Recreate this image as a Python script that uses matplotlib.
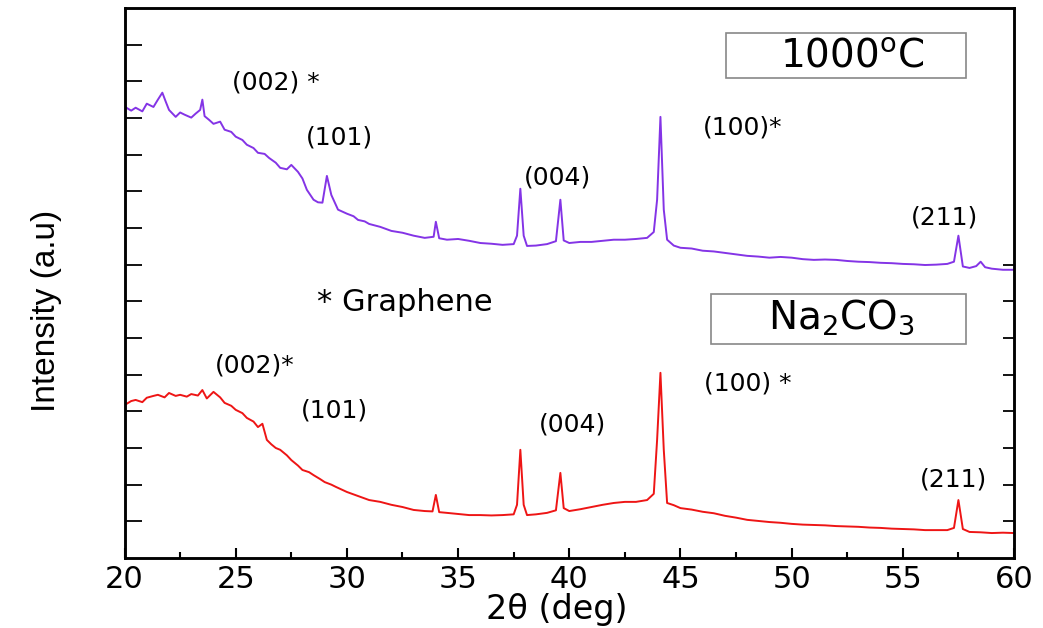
import matplotlib
matplotlib.use("Agg")
import matplotlib.pyplot as plt
from matplotlib.patches import Rectangle
from matplotlib.ticker import MultipleLocator

# 1000 C sample (upper trace)
x_1000 = [20.0, 20.3, 20.5, 20.8, 21.0, 21.3, 21.5, 21.7, 21.85, 22.0, 22.3, 22.5, 22.7, 23.0, 23.2,
          23.4, 23.5, 23.6, 23.8, 24.0, 24.3, 24.5, 24.8, 25.0, 25.3, 25.5, 25.8, 26.0, 26.3, 26.5,
          26.8, 27.0, 27.3, 27.5, 27.8, 28.0, 28.2, 28.5, 28.7, 28.9, 29.1, 29.3, 29.6, 30.0, 30.3,
          30.5, 30.8, 31.0, 31.5, 32.0, 32.5, 33.0, 33.5, 33.9, 34.0, 34.15, 34.5, 35.0, 35.5, 36.0,
          36.5, 37.0, 37.5, 37.65, 37.8, 37.95, 38.1, 38.5, 39.0, 39.4, 39.6, 39.75, 40.0, 40.5, 41.0,
          41.5, 42.0, 42.5, 43.0, 43.5, 43.8, 43.95, 44.1, 44.25, 44.4, 44.7, 45.0, 45.5, 46.0, 46.5,
          47.0, 47.5, 48.0, 48.5, 49.0, 49.5, 50.0, 50.5, 51.0, 51.5, 52.0, 52.5, 53.0, 53.5, 54.0,
          54.5, 55.0, 55.5, 56.0, 56.5, 57.0, 57.3, 57.5, 57.7, 58.0, 58.3, 58.5, 58.7, 59.0, 59.5, 60.0]
y_1000 = [12.31, 12.20, 12.28, 12.18, 12.39, 12.30, 12.50, 12.69, 12.45, 12.22, 12.03, 12.15, 12.09, 12.01, 12.12,
          12.22, 12.50, 12.05, 11.95, 11.84, 11.90, 11.68, 11.62, 11.49, 11.40, 11.27, 11.18, 11.05, 11.02, 10.91,
          10.78, 10.64, 10.60, 10.72, 10.53, 10.35, 10.04, 9.77, 9.70, 9.69, 10.42, 9.90, 9.50, 9.39, 9.32,
          9.22, 9.18, 9.11, 9.03, 8.92, 8.87, 8.79, 8.73, 8.76, 9.17, 8.72, 8.68, 8.70, 8.65, 8.59,
          8.57, 8.54, 8.56, 8.79, 10.07, 8.79, 8.51, 8.52, 8.56, 8.64, 9.77, 8.66, 8.59, 8.62, 8.62,
          8.65, 8.68, 8.68, 8.70, 8.73, 8.89, 9.77, 12.03, 9.50, 8.68, 8.52, 8.46, 8.44, 8.38, 8.36,
          8.32, 8.28, 8.24, 8.22, 8.19, 8.21, 8.19, 8.15, 8.13, 8.14, 8.13, 8.10, 8.08, 8.07, 8.05,
          8.04, 8.02, 8.01, 7.99, 8.00, 8.02, 8.08, 8.79, 7.95, 7.91, 7.96, 8.08, 7.93, 7.89, 7.86, 7.86]

# Na2CO3 sample (lower trace)
x_na = [20.0, 20.3, 20.5, 20.8, 21.0, 21.3, 21.5, 21.8, 22.0, 22.3, 22.5, 22.8, 23.0, 23.3, 23.5,
        23.7, 24.0, 24.3, 24.5, 24.8, 25.0, 25.3, 25.5, 25.8, 26.0, 26.2, 26.4, 26.6, 26.8, 27.0,
        27.3, 27.5, 27.8, 28.0, 28.3, 28.5, 28.8, 29.0, 29.3, 29.5, 30.0, 30.5, 31.0, 31.5, 32.0,
        32.5, 33.0, 33.5, 33.85, 34.0, 34.15, 34.5, 35.0, 35.5, 36.0, 36.5, 37.0, 37.5, 37.65, 37.8,
        37.95, 38.1, 38.5, 39.0, 39.4, 39.6, 39.75, 40.0, 40.5, 41.0, 41.5, 42.0, 42.5, 43.0, 43.5,
        43.8, 43.95, 44.1, 44.25, 44.4, 44.7, 45.0, 45.5, 46.0, 46.5, 47.0, 47.5, 48.0, 48.5, 49.0,
        49.5, 50.0, 50.5, 51.0, 51.5, 52.0, 52.5, 53.0, 53.5, 54.0, 54.5, 55.0, 55.5, 56.0, 56.5,
        57.0, 57.3, 57.5, 57.7, 58.0, 58.5, 59.0, 59.5, 60.0]
y_na = [4.17, 4.28, 4.31, 4.25, 4.37, 4.42, 4.45, 4.38, 4.50, 4.42, 4.45, 4.40, 4.47, 4.43, 4.58,
        4.35, 4.53, 4.38, 4.23, 4.15, 4.04, 3.95, 3.82, 3.72, 3.57, 3.66, 3.22, 3.10, 3.00, 2.95,
        2.80, 2.67, 2.52, 2.40, 2.34, 2.26, 2.15, 2.07, 2.00, 1.94, 1.80, 1.69, 1.58, 1.53, 1.45,
        1.39, 1.31, 1.28, 1.27, 1.72, 1.25, 1.23, 1.20, 1.17, 1.17, 1.16, 1.17, 1.19, 1.45, 2.95,
        1.45, 1.17, 1.19, 1.23, 1.30, 2.32, 1.36, 1.28, 1.33, 1.39, 1.45, 1.50, 1.53, 1.53, 1.58,
        1.75, 3.22, 5.05, 2.95, 1.50, 1.44, 1.36, 1.32, 1.26, 1.22, 1.15, 1.10, 1.04, 1.01, 0.98,
        0.96, 0.93, 0.91, 0.90, 0.89, 0.87, 0.86, 0.85, 0.83, 0.82, 0.80, 0.79, 0.78, 0.76, 0.76,
        0.76, 0.82, 1.58, 0.79, 0.71, 0.70, 0.68, 0.69, 0.68]

x_ticks = [20, 25, 30, 35, 40, 45, 50, 55, 60]

labels_top = ["(002) *", "(101)", "(004)", "(100)*", "(211)"]
labels_bottom = ["(002)*", "(101)", "(004)", "(100) *", "(211)"]

purple = "#8434e6"
red = "#ee1515"

plt.rcParams["font.family"] = ["DejaVu Sans"]
plt.rcParams["mathtext.fontset"] = "dejavusans"

fig = plt.figure(figsize=(10.43, 6.28), dpi=100)
ax = fig.add_axes([0.1194, 0.1115, 0.8528, 0.8758])

ax.plot(x_1000, y_1000, color=purple, lw=1.4)
ax.plot(x_na, y_na, color=red, lw=1.4)

ax.set_xlim(20, 60)
ax.set_ylim(0, 15)
ax.set_xticks(x_ticks)
ax.xaxis.set_minor_locator(MultipleLocator(2.5))
ax.set_yticks(range(1, 15))
ax.tick_params(axis="x", which="major", direction="in", length=7, width=1.5,
               labelsize=22, pad=5)
ax.tick_params(axis="x", which="minor", direction="in", length=4, width=1.5)
ax.tick_params(axis="y", which="major", direction="in", length=12, width=1.3,
               labelleft=False)
for s in ax.spines.values():
    s.set_linewidth(1.8)

# right side only carries ticks on the lower half
ax2 = ax.twinx()
ax2.set_ylim(0, 15)
ax2.set_yticks(range(1, 9))
ax2.tick_params(axis="y", direction="in", length=8, width=1.3, labelright=False)
for s in ax2.spines.values():
    s.set_linewidth(1.8)

ax.set_xlabel("2θ (deg)", fontsize=24, va="center")
ax.xaxis.set_label_coords(0.486, -0.094)
ax.set_ylabel("Intensity (a.u)", fontsize=24, family="Liberation Sans")
ax.yaxis.set_label_coords(-0.07, 0.45)

# peak labels
pos_top = [(26.81, 12.96), (29.66, 11.46), (39.46, 10.37), (47.78, 11.73), (56.88, 9.28)]
pos_bottom = [(25.87, 5.24), (29.46, 4.01), (40.13, 3.63), (48.04, 4.75), (57.26, 2.13)]
for lab, (px, py) in zip(labels_top, pos_top):
    ax.text(px, py, lab, fontsize=18, ha="center", va="center")
for lab, (px, py) in zip(labels_bottom, pos_bottom):
    ax.text(px, py, lab, fontsize=18, ha="center", va="center")

ax.text(32.61, 6.96, "* Graphene", fontsize=22, ha="center", va="center")

# sample boxes
ax.add_patch(Rectangle((0.676, 0.873), 0.270, 0.082, transform=ax.transAxes,
                       fill=False, edgecolor="#888888", lw=1.2))
ax.text(0.818, 0.912, r"1000$^\mathregular{o}$C", transform=ax.transAxes,
        fontsize=28, ha="center", va="center")
ax.add_patch(Rectangle((0.659, 0.389), 0.287, 0.091, transform=ax.transAxes,
                       fill=False, edgecolor="#888888", lw=1.2))
ax.text(0.806, 0.438, r"Na$_\mathregular{2}$CO$_\mathregular{3}$", transform=ax.transAxes,
        fontsize=28, ha="center", va="center")

fig.savefig("out.png", dpi=100)
